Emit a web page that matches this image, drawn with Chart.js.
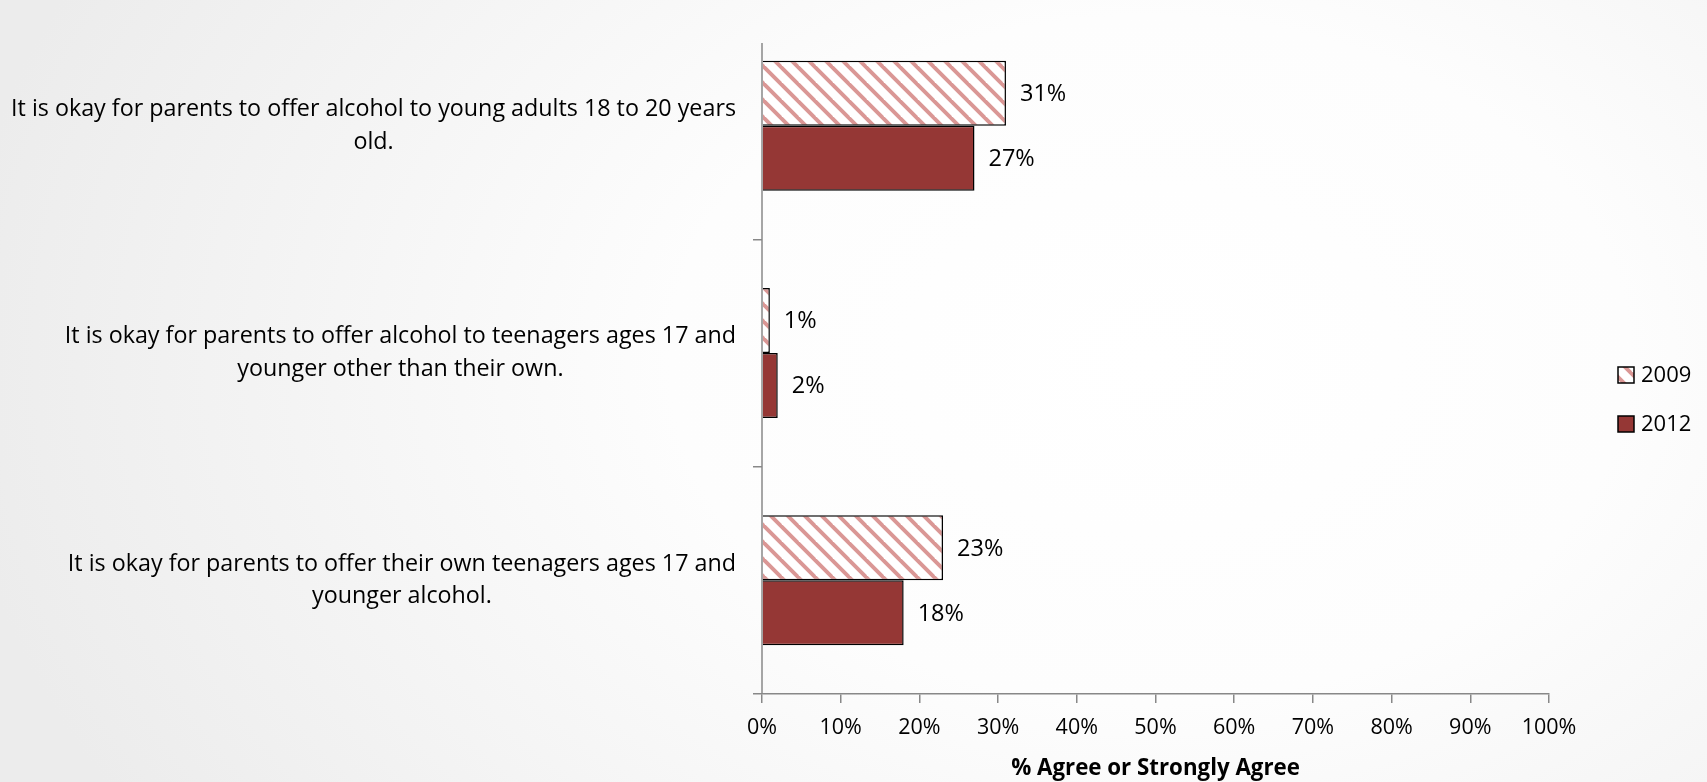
<!DOCTYPE html>
<html>
<head>
<meta charset="utf-8">
<script src="https://cdn.jsdelivr.net/npm/chart.js@4/dist/chart.umd.min.js"></script>
<style>
  html, body { margin: 0; padding: 0; width: 1707px; height: 782px; overflow: hidden; }
  body { background: radial-gradient(ellipse 1200px 860px at 1150px 360px, #ffffff 0%, #fdfdfd 40%, #f3f3f3 75%, #ececec 100%); }
  canvas { display: block; }
</style>
</head>
<body>
<canvas id="chart" width="1707" height="782"></canvas>
<script>
// Survey statements, each split into the two lines they are printed on
const categories = [
  ['It is okay for parents to offer alcohol to young adults 18 to 20 years', 'old.'],
  ['It is okay for parents to offer alcohol to teenagers ages 17 and', 'younger other than their own.'],
  ['It is okay for parents to offer their own teenagers ages 17 and', 'younger alcohol.']
];
const seriesNames = ['2009', '2012'];
const values2009 = [31, 1, 23];
const values2012 = [27, 2, 18];
const xTickValues = [0, 10, 20, 30, 40, 50, 60, 70, 80, 90, 100];
const xTitle = '% Agree or Strongly Agree';

const FONT = '"Open Sans", "DejaVu Sans", sans-serif';
const AXIS_GREY = '#888888';
const DARK_RED = '#953735';

// Diagonal pink hatching on white for the 2009 series
function makeHatch() {
  const s = 17;
  const c = document.createElement('canvas');
  c.width = s; c.height = s;
  const g = c.getContext('2d');
  g.fillStyle = '#ffffff';
  g.fillRect(0, 0, s, s);
  g.strokeStyle = '#da9795';
  g.lineWidth = 3.9;
  for (const o of [-s, 0, s]) {
    g.beginPath();
    g.moveTo(o - 3, -3);
    g.lineTo(o + s + 3, s + 3);
    g.stroke();
  }
  return g.createPattern(c, 'repeat');
}
const hatch = makeHatch();
const fills = [hatch, DARK_RED];

// Statement labels: each block right-aligned to the axis, its lines centred in the block
const categoryLabels = {
  id: 'categoryLabels',
  afterDraw(chart) {
    const { ctx, chartArea, scales } = chart;
    ctx.save();
    ctx.font = '23.3px ' + FONT;
    ctx.fillStyle = '#000';
    ctx.textAlign = 'center';
    ctx.textBaseline = 'middle';
    const right = chartArea.left - 26;
    const lineH = 32.5;
    categories.forEach((lines, i) => {
      const y = scales.y.getPixelForValue(i);
      const w = Math.max(...lines.map(l => ctx.measureText(l).width));
      const cx = right - w / 2;
      lines.forEach((l, k) => {
        ctx.fillText(l, cx, y + (k - (lines.length - 1) / 2) * lineH);
      });
    });
    ctx.restore();
  }
};

// Value labels to the right of every bar
const valueLabels = {
  id: 'valueLabels',
  afterDatasetsDraw(chart) {
    const { ctx } = chart;
    ctx.save();
    ctx.font = '23.5px ' + FONT;
    ctx.fillStyle = '#000';
    ctx.textAlign = 'left';
    ctx.textBaseline = 'middle';
    chart.data.datasets.forEach((ds, di) => {
      chart.getDatasetMeta(di).data.forEach((bar, i) => {
        ctx.fillText(ds.data[i] + '%', bar.x + 14, bar.y + 1);
      });
    });
    ctx.restore();
  }
};

// Vertical axis line, starting a little below the top of the plot
const categoryAxisLine = {
  id: 'categoryAxisLine',
  afterDraw(chart) {
    const { ctx, chartArea } = chart;
    ctx.save();
    ctx.strokeStyle = AXIS_GREY;
    ctx.lineWidth = 1.5;
    ctx.beginPath();
    ctx.moveTo(chartArea.left, chartArea.top + 31);
    ctx.lineTo(chartArea.left, chartArea.bottom);
    ctx.stroke();
    ctx.restore();
  }
};

// Legend at the right: swatch with black outline, then the year
const sideLegend = {
  id: 'sideLegend',
  afterDraw(chart) {
    const { ctx, chartArea } = chart;
    ctx.save();
    const x = chartArea.right + 69;
    const ys = [375, 424];
    ctx.font = '22px ' + FONT;
    ctx.textBaseline = 'middle';
    ctx.textAlign = 'left';
    seriesNames.forEach((name, i) => {
      const y = ys[i];
      ctx.fillStyle = fills[i];
      ctx.fillRect(x, y - 8, 16, 16);
      ctx.strokeStyle = '#000';
      ctx.lineWidth = 1.5;
      ctx.strokeRect(x, y - 8, 16, 16);
      ctx.fillStyle = '#000';
      ctx.fillText(name, x + 23, y + 1);
    });
    ctx.restore();
  }
};

new Chart(document.getElementById('chart'), {
  type: 'bar',
  data: {
    labels: categories.map(c => c.join(' ')),
    datasets: [
      { label: seriesNames[0], data: values2009, backgroundColor: hatch, borderColor: '#000', borderWidth: 1.5 },
      { label: seriesNames[1], data: values2012, backgroundColor: DARK_RED, borderColor: '#000', borderWidth: 1.5 }
    ]
  },
  options: {
    indexAxis: 'y',
    responsive: false,
    animation: false,
    devicePixelRatio: 1,
    layout: { padding: { left: 0, right: 158, top: 12, bottom: 0 } },
    datasets: { bar: { categoryPercentage: 0.572, barPercentage: 1 } },
    plugins: { legend: { display: false }, tooltip: { enabled: false } },
    scales: {
      x: {
        min: 0, max: 100,
        afterBuildTicks(scale) { scale.ticks = xTickValues.map(v => ({ value: v })); },
        ticks: { callback: v => v + '%', color: '#000', font: { family: FONT, size: 21.5 }, padding: 12, maxRotation: 0 },
        grid: { drawOnChartArea: false, tickLength: 9, color: AXIS_GREY, lineWidth: 1.5 },
        border: { color: AXIS_GREY, width: 1.5 },
        title: { display: true, text: xTitle, color: '#000', font: { family: FONT, size: 22.3, weight: 'bold', lineHeight: 1.2 }, padding: 0 },
        afterFit(scale) { scale.height = 88; }
      },
      y: {
        ticks: { display: false },
        grid: {
          offset: true, drawOnChartArea: false, tickLength: 9, lineWidth: 1.5,
          color: c => (c.index === 0 ? 'rgba(0,0,0,0)' : AXIS_GREY)
        },
        border: { display: false },
        afterFit(scale) { scale.width = 762; }
      }
    }
  },
  plugins: [categoryLabels, valueLabels, categoryAxisLine, sideLegend]
});
</script>
</body>
</html>
